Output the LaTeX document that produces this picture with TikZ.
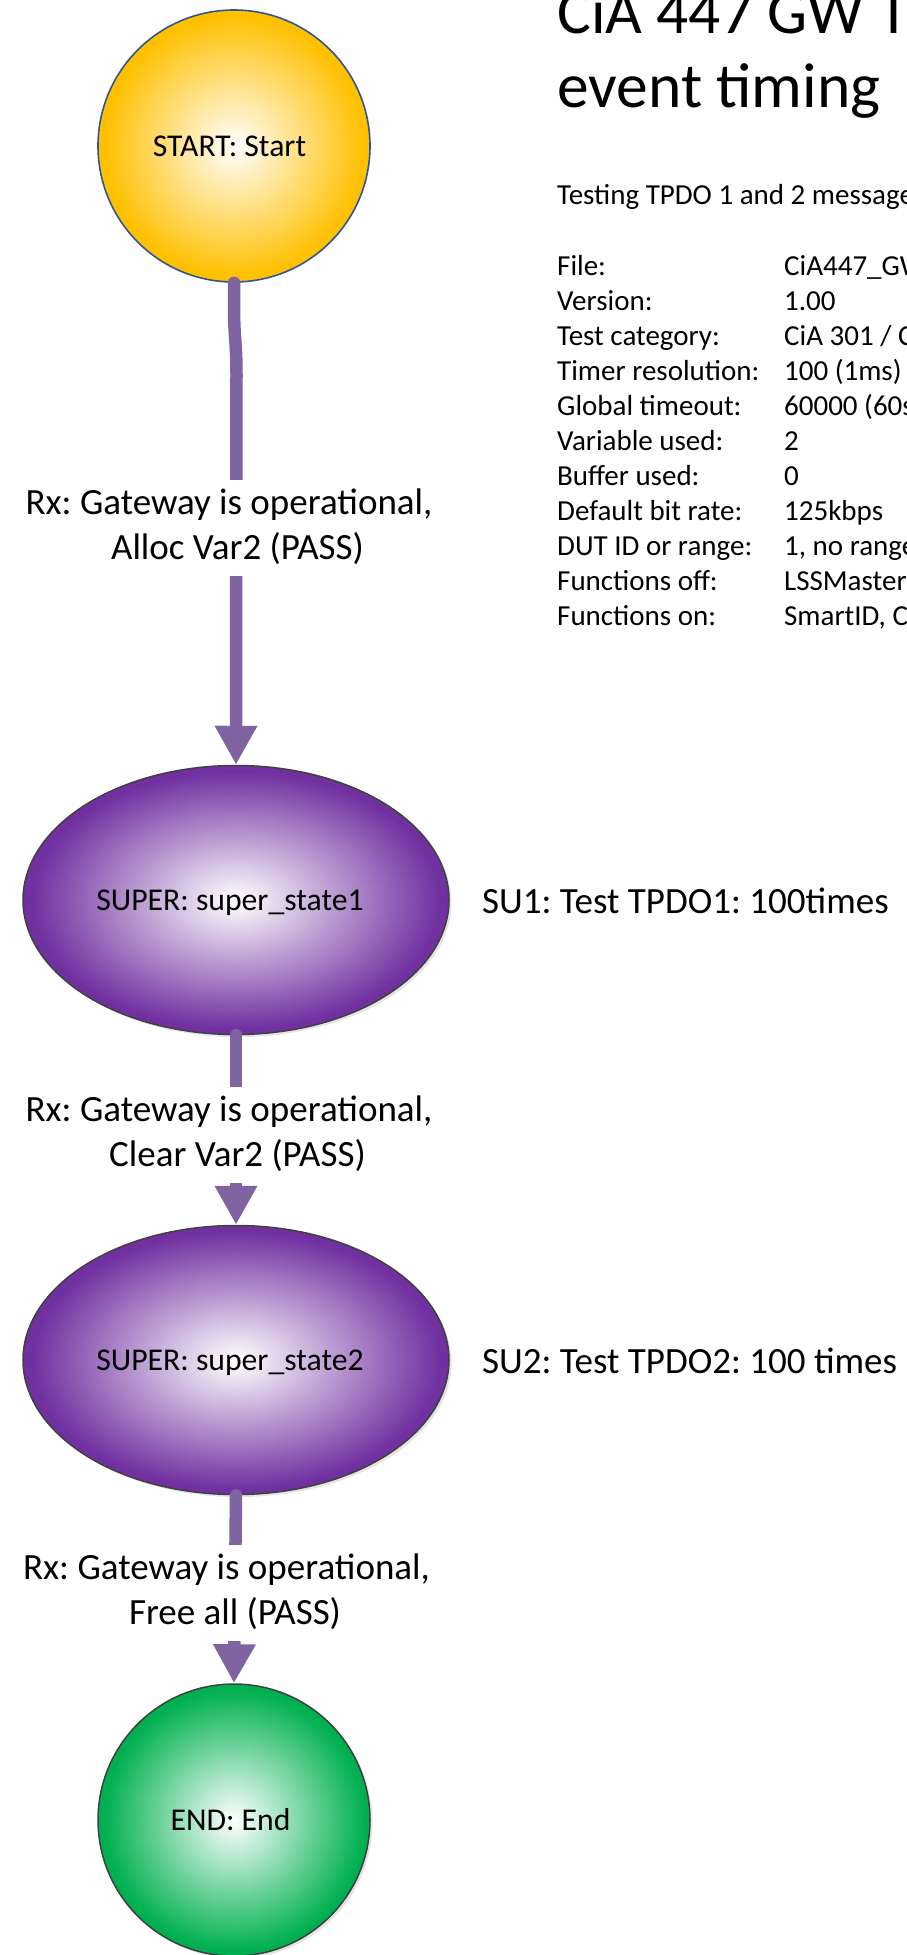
\documentclass[tikz,border=0pt]{standalone}
\usepackage{fontspec}
\setmainfont{Carlito}
\frenchspacing
\usetikzlibrary{shapes.geometric,arrows.meta,shadows}
\definecolor{goldc}{HTML}{FFC000}
\definecolor{purplec}{HTML}{7030A0}
\definecolor{greenc}{HTML}{00B050}
\definecolor{arrowc}{HTML}{8064A2}
\definecolor{bluebord}{HTML}{2F5597}
\definecolor{darkbord}{HTML}{404040}
\pgfdeclareradialshading{goldshade}{\pgfpoint{0bp}{0bp}}{color(0bp)=(white); color(24bp)=(goldc); color(50bp)=(goldc)}
\pgfdeclareradialshading{purpleshade}{\pgfpoint{0bp}{0bp}}{color(0bp)=(white); color(24bp)=(purplec); color(50bp)=(purplec)}
\pgfdeclareradialshading{greenshade}{\pgfpoint{0bp}{0bp}}{color(0bp)=(white); color(24bp)=(greenc); color(50bp)=(greenc)}
\newcommand\myfs[2]{\fontsize{#1}{#2}\selectfont}
\begin{document}
\begin{tikzpicture}[x=1pt,y=-1pt,
  state/.style={inner sep=0pt, font=\myfs{31.7}{38}, text height=21pt, text depth=0pt, shade},
  startst/.style={state, circle, minimum size=272pt, shading=goldshade, draw=bluebord, line width=1.6pt},
  superst/.style={state, ellipse, minimum width=426pt, minimum height=269pt, shading=purpleshade, draw=darkbord, line width=1.5pt,
     drop shadow={shadow xshift=2.5pt, shadow yshift=-2.5pt, opacity=0.22}},
  endst/.style={state, circle, minimum size=272pt, shading=greenshade, draw=darkbord, line width=1.5pt,
     drop shadow={shadow xshift=2.5pt, shadow yshift=-2.5pt, opacity=0.22}},
  flow/.style={draw=arrowc, line width=12.5pt, line cap=round, -{Triangle[length=39pt,width=40pt]}},
  edgelabel/.style={fill=white, inner xsep=2pt, inner ysep=3pt, anchor=base, font=\myfs{37}{45}},
  note/.style={anchor=base west, inner sep=0pt, font=\myfs{37}{45}},
  info/.style={anchor=base west, inner sep=0pt, font=\myfs{29}{35}},
]
\path[use as bounding box] (0,0) rectangle (907,1955);
\clip (0,0) rectangle (907,1955);

% states
\node[startst] (start) at (234,146) {START: Start\hspace*{9pt}};
\node[superst] (super1) at (236,900) {SUPER: super\_state1\hspace*{12pt}};
\node[superst] (super2) at (236,1360) {SUPER: super\_state2\hspace*{12pt}};
\node[endst] (end) at (234,1820) {END: End\hspace*{7pt}};

% connectors
\coordinate (w1) at (234,305);
\coordinate (w2) at (236.5,375);
\draw[flow] (start.south) -- (w1) .. controls (234,340) and (236.5,340) .. (w2) -- (super1.north);
\draw[flow] (super1.south) -- (super2.north);
\draw[flow] (super2.south) -- (end.north);

% connector labels
\node[edgelabel] (lab1) at (237.5,514) {\begin{tabular}[t]{@{}c@{}}Rx: Gateway is operational,\hspace*{17pt}\\Alloc Var2 (PASS)\end{tabular}};
\node[edgelabel] (lab2) at (237.5,1121) {\begin{tabular}[t]{@{}c@{}}Rx: Gateway is operational,\hspace*{17pt}\\Clear Var2 (PASS)\end{tabular}};
\node[edgelabel] (lab3) at (235,1579) {\begin{tabular}[t]{@{}c@{}}Rx: Gateway is operational,\hspace*{17pt}\\Free all (PASS)\end{tabular}};

% notes
\node[note] (su1) at (482,913) {SU1: Test TPDO1: 100times};
\node[note] (su2) at (482,1373) {SU2: Test TPDO2: 100 times};

% title and info
\node[anchor=base west, inner sep=0pt, font=\myfs{63.5}{74}] (title) at (557,33)
  {\begin{tabular}[t]{@{}l@{}}CiA 447 GW TPDO\\event timing\end{tabular}};
\node[info] (desc) at (557,204) {Testing TPDO 1 and 2 messages};
\node[info] (table) at (557,275) {\begin{tabular}[t]{@{}p{227pt}@{}l@{}}
File: & CiA447\_GW\_TPDO\\
Version: & 1.00\\
Test category: & CiA 301 / CiA 447\\
Timer resolution: & 100 (1ms)\\
Global timeout: & 60000 (60s)\\
Variable used: & 2\\
Buffer used: & 0\\
Default bit rate: & 125kbps\\
DUT ID or range: & 1, no range\\
Functions off: & LSSMaster\\
Functions on: & SmartID, CANopen\\
\end{tabular}};
\end{tikzpicture}
\end{document}
